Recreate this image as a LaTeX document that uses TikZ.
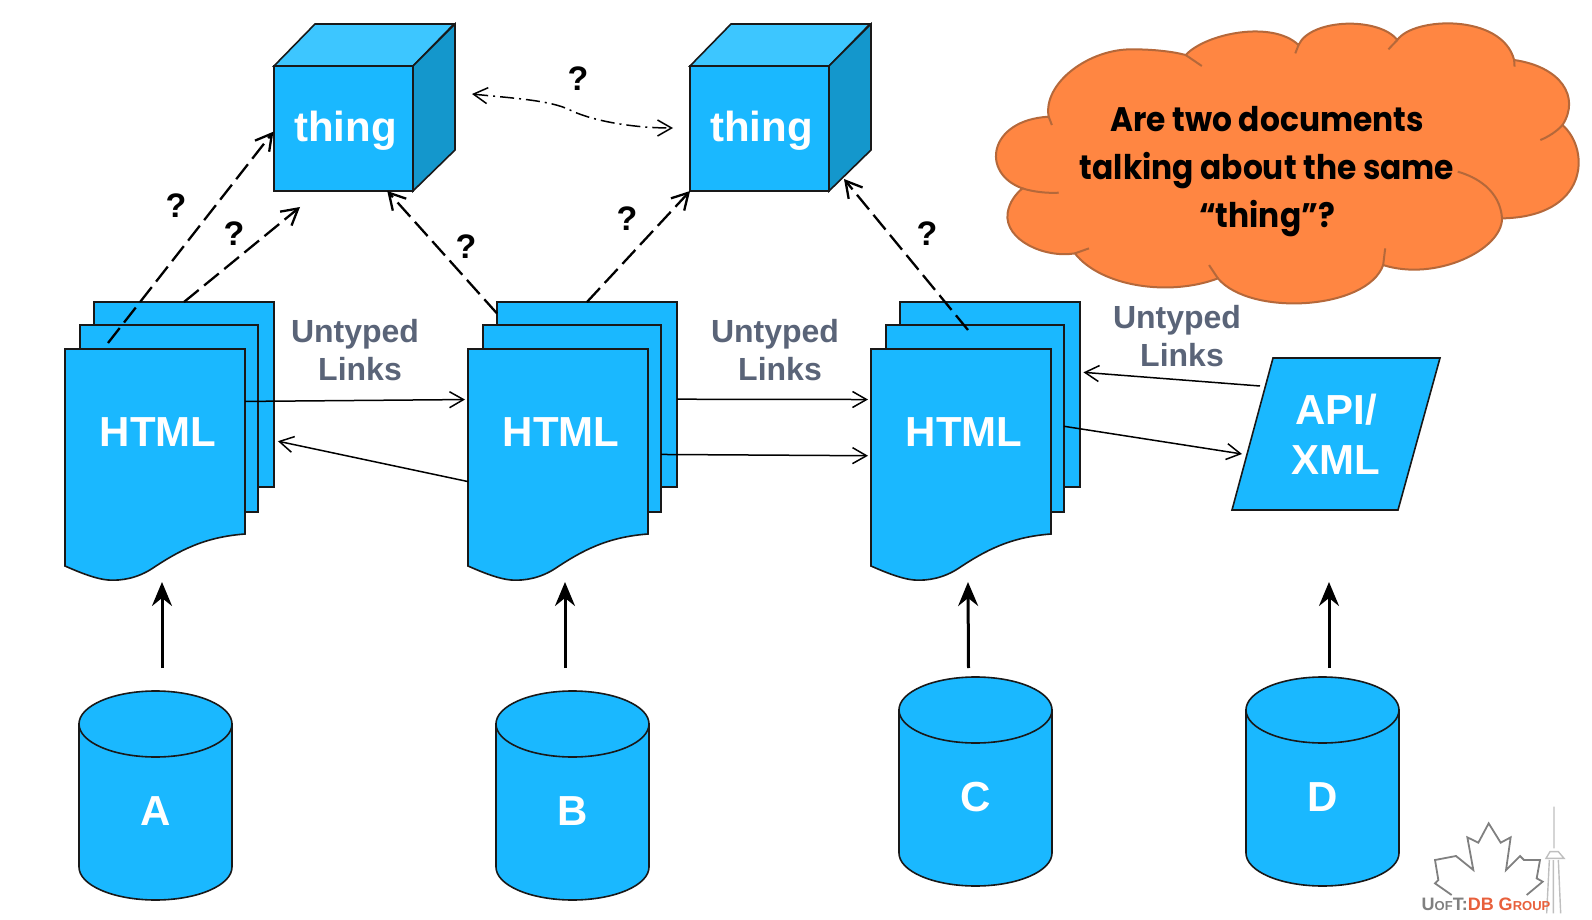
\documentclass[tikz,border=0pt]{standalone}
\usepackage{fontspec}
\setmainfont{Liberation Sans}
\newfontfamily\cloudfont[FakeStretch=0.92]{Poppins}
\usepackage{tikz}
\usetikzlibrary{positioning, arrows.meta}

\definecolor{bluefill}{HTML}{1AB8FF}
\definecolor{bluetop}{HTML}{3DC6FF}
\definecolor{blueside}{HTML}{1497CC}
\definecolor{linkgray}{HTML}{5A6478}
\definecolor{cloudfill}{HTML}{FF8642}
\definecolor{cloudline}{HTML}{B5683A}
\definecolor{logored}{HTML}{E8603C}

\tikzset{
    shape line/.style={draw=black!90, line width=0.8pt, fill=bluefill},
    sheet/.style={shape line, rectangle, minimum width=90pt, minimum height=92.5pt, outer sep=0pt},
    midsheet/.style={sheet, minimum width=89pt, minimum height=93.5pt},
    white text/.style={text=white, font=\fontsize{21}{25}\selectfont\bfseries},
    pagebox/.style={white text, rectangle, anchor=north west, inner sep=0pt, outer sep=0pt, text width=90pt, align=center, text height=48.5pt, text depth=44pt},
    drumbox/.style={white text, rectangle, anchor=north, inner sep=0pt, outer sep=0pt, text width=76.5pt, align=center, text height=66.5pt, text depth=37.5pt},
    cubeface/.style={shape line, white text, rectangle, minimum width=69.5pt, minimum height=62.5pt, outer sep=0pt, inner sep=0pt},
    link text/.style={text=linkgray, font=\fontsize{16}{19}\selectfont\bfseries, align=center},
    ask/.style={font=\fontsize{17}{20}\selectfont\bfseries, inner sep=0pt},
    thin link/.style={line width=0.75pt, -{Straight Barb[length=7pt,width=8pt]}},
    dash link/.style={line width=1.15pt, dash pattern=on 9.5pt off 3.5pt, -{Straight Barb[length=8pt,width=9pt]}},
    up link/.style={line width=1.5pt, -{Stealth[length=12pt,width=10pt,inset=4pt]}},
}

\newcommand{\htmlpage}[2]{
    \begin{scope}[shift={(#2,0)}]
        \path[shape line] (65,349) -- (245,349) -- (245,534)
            .. controls (205,537) and (180,550) .. (153,568)
            .. controls (138,578) and (122,581) .. (108,580)
            .. controls (97,579) and (83,574) .. (65,566) -- cycle;
        \node[pagebox] (#1) at (65,349) {\hspace*{3pt}HTML};
    \end{scope}
}
\newcommand{\drum}[4]{
    \begin{scope}[shift={(#2,#3)}]
        \path[shape line] (0,32) -- (0,175) arc[start angle=180, end angle=0, x radius=76.5, y radius=33] -- (153,32) -- cycle;
        \path[shape line] (76.5,32) ellipse [x radius=76.5, y radius=33];
        \node[drumbox] (#1) at (76.5,0) {#4};
    \end{scope}
}

\begin{document}
\begin{tikzpicture}[x=0.5pt,y=-0.5pt]
    \useasboundingbox (0,0) rectangle (1592,920);

    \node[sheet] (doc1b) at (184,394.5) {};
    \node[midsheet] (doc1m) at (169,418.5) {};
    \htmlpage{doc1}{0}
    \node[sheet] (doc2b) at (587,394.5) {};
    \node[midsheet] (doc2m) at (572,418.5) {};
    \htmlpage{doc2}{403}
    \node[sheet] (doc3b) at (990,394.5) {};
    \node[midsheet] (doc3m) at (975,418.5) {};
    \htmlpage{doc3}{806}

    \path[shape line] (1273,358) -- (1440,358) -- (1398,510) -- (1232,510) -- cycle;
    \node[white text, align=center, inner sep=0pt] (api) at (1336,434) {API/\\XML};

    \node[cubeface] (cube1) at (343.5,128.5) {\raisebox{-6.75pt}[0pt][0pt]{\hspace*{2pt}thing}};
    \path[shape line, fill=bluetop] (cube1.north west) -- ++(41,-42) -- ++(139,0) -- (cube1.north east) -- cycle;
    \path[shape line, fill=blueside] (cube1.north east) -- ++(42,-42) -- ++(0,126) -- (cube1.south east) -- cycle;
    \node[cubeface] (cube2) at (759.5,128.5) {\raisebox{-6.75pt}[0pt][0pt]{\hspace*{2pt}thing}};
    \path[shape line, fill=bluetop] (cube2.north west) -- ++(41,-42) -- ++(139,0) -- (cube2.north east) -- cycle;
    \path[shape line, fill=blueside] (cube2.north east) -- ++(42,-42) -- ++(0,126) -- (cube2.south east) -- cycle;

    \drum{cyl1}{79}{692}{A}
    \drum{cyl2}{496}{692}{B}
    \drum{cyl3}{899}{678}{C}
    \drum{cyl4}{1246}{678}{D}

    \coordinate (d1) at (108,343);
    \coordinate (d5) at (968,330);
    \coordinate (api1) at (1260,386);
    \coordinate (api2) at (1242,454);
    \coordinate (same1) at (472,94);
    \coordinate (same2) at (673,128);

    \path[thin link] (doc1.24.8) edge [shorten >=1.5pt] (doc2.155.2)
                     (doc2.204.2) edge [shorten >=2pt] (doc1b.-27.8)
                     (doc2b.-3.5) edge [shorten >=1.5pt] (doc3.155.2)
                     (doc2m.-22.85) edge [shorten >=1.5pt] (doc3.189.2)
                     (api1) edge [shorten >=1.75pt] (doc3b.14)
                     (doc3m.-5.5) edge (api2);

    \path[dash link] (d1) edge [shorten >=0.5pt] (cube1.182.9)
                     (doc1b.north) edge ([shift={(-43.5,16)}]cube1.south)
                     (doc2b.138.5) edge (cube1.-55.2)
                     (doc2b.north) edge (cube2.222.5)
                     (d5) edge ([shift={(15,-12)}]cube2.south east);

    \draw[line width=0.75pt, dash pattern=on 7pt off 2.5pt on 1pt off 2.5pt, {Straight Barb[length=7pt,width=8pt]}-{Straight Barb[length=7pt,width=8pt]}]
        (same1) .. controls (510,98) and (550,100) .. (570,110)
        .. controls (590,120) and (630,128) .. (same2);

    \path[up link] ([shift={(6.5,-24)}]cyl1.north) edge ([shift={(7,48)}]doc1.south)
                   ([shift={(-7.5,-24)}]cyl2.north) edge ([shift={(7,48)}]doc2.south)
                   ([shift={(-7,-10)}]cyl3.north) edge ([shift={(7,48)}]doc3.south)
                   ([shift={(6.5,-10)}]cyl4.north) edge ([shift={(-7,148)}]api.center);

    \node[link text] (links1) at (355,350) {Untyped\\\hspace*{5pt}Links};
    \node[link text] (links2) at (775,350) {Untyped\\\hspace*{5pt}Links};
    \node[link text] (links3) at (1177,336) {Untyped\\\hspace*{5pt}Links};

    \node[ask] (ask1) at (176,206) {?};
    \node[ask] (ask2) at (234,234) {?};
    \node[ask] (ask3) at (466,247) {?};
    \node[ask] (ask4) at (627,219) {?};
    \node[ask] (ask5) at (578,79) {?};
    \node[ask] (ask6) at (927,234) {?};

    \begin{scope}[shift={(960,10)},x=0.2015pt,y=-0.1667pt]
        \path[draw=cloudline, line width=1pt, fill=cloudfill]
            (560,135) .. controls (610,70) and (775,30) .. (840,105)
            .. controls (870,25) and (1040,20) .. (1085,90)
            .. controls (1125,20) and (1345,10) .. (1375,150)
            .. controls (1490,170) and (1540,260) .. (1495,345)
            .. controls (1565,420) and (1560,620) .. (1345,625)
            .. controls (1345,720) and (1180,815) .. (1050,765)
            .. controls (1010,900) and (720,920) .. (640,805)
            .. controls (520,860) and (350,830) .. (285,730)
            .. controls (210,745) and (110,690) .. (118,610)
            .. controls (122,575) and (140,550) .. (155,535)
            .. controls (50,490) and (70,330) .. (220,320)
            .. controls (205,220) and (320,115) .. (430,118)
            .. controls (480,118) and (530,125) .. (560,135) -- cycle;
        \draw[cloudline, line width=1pt] (560,135) -- (600,168)
            (840,105) -- (832,130)
            (1085,90) -- (1063,118)
            (1375,150) -- (1376,170)
            (1495,345) .. controls (1480,365) and (1460,380) .. (1440,390)
            (1345,625) .. controls (1340,540) and (1280,500) .. (1235,485)
            (1050,765) -- (1055,715)
            (640,805) -- (618,765)
            (285,730) -- (320,715)
            (155,535) .. controls (180,545) and (215,550) .. (245,548)
            (220,320) -- (228,345);
    \end{scope}
    \node[align=center, inner sep=0pt, font=\fontsize{17}{24}\cloudfont\bfseries] (ask7) at (1267,172) {Are two documents\\talking about the same\\“thing”?};

    \begin{scope}[shift={(1380,780)},x=0.16667pt,y=-0.16667pt]
        \draw[gray, line width=0.9pt, line join=miter] (215,345) -- (165,310) -- (175,300) -- (165,240) -- (228,228) -- (280,270) -- (262,172) -- (295,188) -- (326,130) -- (362,188) -- (392,172) -- (378,270) -- (420,228) -- (432,240) -- (480,240) -- (470,295) -- (488,305) -- (440,345);
        \draw[black!25, line width=0.7pt] (522,80) -- (522,205)
            (510,215) -- (498,235) -- (552,235) -- (535,215) -- cycle
            (508,240) -- (500,400)
            (535,240) -- (542,400)
            (520,240) -- (520,400);
    \end{scope}
    \node[inner sep=0pt, font=\bfseries] (logo) at (1486,904) {\fontsize{9}{10}\selectfont\textcolor{gray}{U{\fontsize{6.5}{7}\selectfont OF}T:}\textcolor{logored}{DB G{\fontsize{6.5}{7}\selectfont ROUP}}};
\end{tikzpicture}
\end{document}
